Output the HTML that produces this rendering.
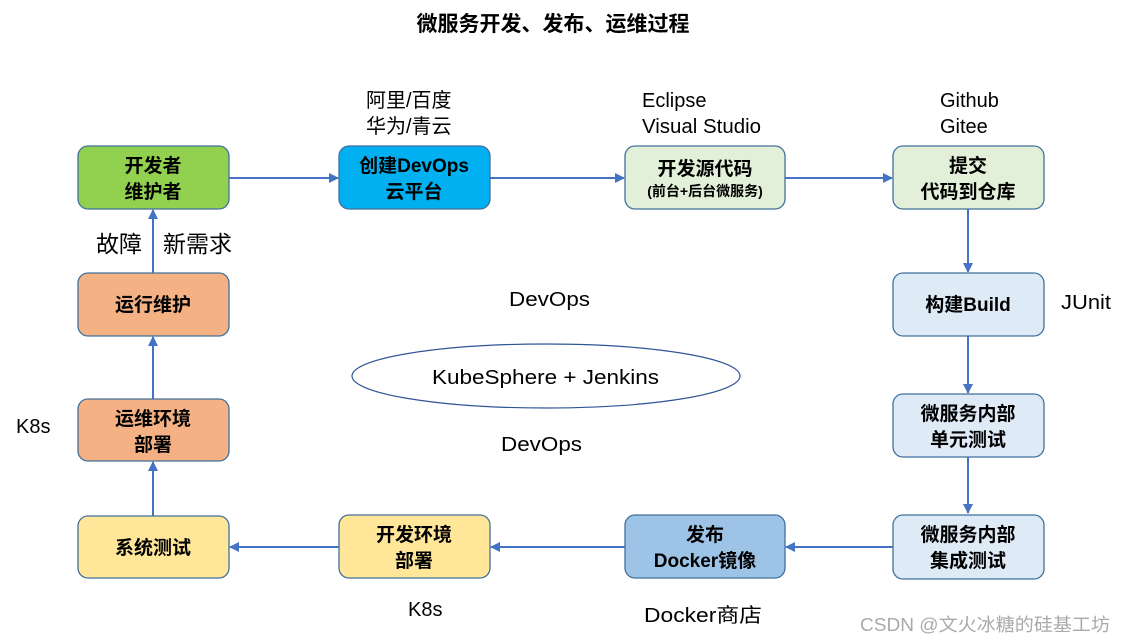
<!DOCTYPE html>
<html><head><meta charset="utf-8"><style>
html,body{margin:0;padding:0;background:#fff;}
svg{display:block;}
text{font-family:"Liberation Sans","Noto Sans CJK SC",sans-serif;}
.b{font-weight:bold;font-size:19px;fill:#000;text-anchor:middle;}
.n{font-size:20px;fill:#000;}
</style></head><body>
<svg width="1126" height="643" viewBox="0 0 1126 643" xmlns="http://www.w3.org/2000/svg">
<defs>
<marker id="a" markerWidth="10" markerHeight="10" refX="9" refY="5" orient="auto" markerUnits="userSpaceOnUse">
<path d="M0,0 L10,5 L0,10 z" fill="#4472c4"/></marker>
</defs>
<text x="553" y="31" class="b" style="font-size:21px">微服务开发、发布、运维过程</text>

<g stroke="#4472c4" stroke-width="2" fill="none" marker-end="url(#a)">
<line x1="229" y1="178" x2="338" y2="178"/>
<line x1="490" y1="178" x2="624" y2="178"/>
<line x1="785" y1="178" x2="892" y2="178"/>
<line x1="968" y1="209" x2="968" y2="272"/>
<line x1="968" y1="336" x2="968" y2="393"/>
<line x1="968" y1="457" x2="968" y2="513"/>
<line x1="893" y1="547" x2="786" y2="547"/>
<line x1="625" y1="547" x2="491" y2="547"/>
<line x1="339" y1="547" x2="230" y2="547"/>
<line x1="153" y1="516" x2="153" y2="462"/>
<line x1="153" y1="399" x2="153" y2="337"/>
<line x1="153" y1="273" x2="153" y2="210"/>
</g>

<g stroke="#41719c" stroke-width="1.3">
<rect x="78" y="146" width="151" height="63" rx="10" fill="#92d050"/>
<rect x="339" y="146" width="151" height="63" rx="10" fill="#00b0f0"/>
<rect x="625" y="146" width="160" height="63" rx="10" fill="#e2f0d9"/>
<rect x="893" y="146" width="151" height="63" rx="10" fill="#e2f0d9"/>
<rect x="893" y="273" width="151" height="63" rx="10" fill="#deebf7"/>
<rect x="893" y="394" width="151" height="63" rx="10" fill="#deebf7"/>
<rect x="893" y="515" width="151" height="64" rx="10" fill="#deebf7"/>
<rect x="625" y="515" width="160" height="63" rx="10" fill="#9dc3e6"/>
<rect x="339" y="515" width="151" height="63" rx="10" fill="#ffe699"/>
<rect x="78" y="516" width="151" height="62" rx="10" fill="#ffe699"/>
<rect x="78" y="399" width="151" height="62" rx="10" fill="#f4b183"/>
<rect x="78" y="273" width="151" height="63" rx="10" fill="#f4b183"/>
</g>
<ellipse cx="546" cy="376" rx="194" ry="32" fill="none" stroke="#2f5597" stroke-width="1.2"/>

<text class="b" x="153" y="172">开发者</text><text class="b" x="153" y="198">维护者</text>
<text class="b" x="414" y="172">创建DevOps</text><text class="b" x="414" y="198">云平台</text>
<text class="b" x="705" y="175">开发源代码</text><text class="b" x="705" y="196" style="font-size:14px">(前台+后台微服务)</text>
<text class="b" x="968" y="172">提交</text><text class="b" x="968" y="198">代码到仓库</text>
<text class="b" x="968" y="311">构建Build</text>
<text class="b" x="968" y="420">微服务内部</text><text class="b" x="968" y="446">单元测试</text>
<text class="b" x="968" y="541">微服务内部</text><text class="b" x="968" y="567">集成测试</text>
<text class="b" x="705" y="541">发布</text><text class="b" x="705" y="567">Docker镜像</text>
<text class="b" x="414" y="541">开发环境</text><text class="b" x="414" y="567">部署</text>
<text class="b" x="153" y="554">系统测试</text>
<text class="b" x="153" y="425">运维环境</text><text class="b" x="153" y="451">部署</text>
<text class="b" x="153" y="311">运行维护</text>

<text class="n" x="366" y="107">阿里/百度</text>
<text class="n" x="366" y="133">华为/青云</text>
<text class="n" x="642" y="107">Eclipse</text>
<text class="n" x="642" y="133" textLength="119" lengthAdjust="spacingAndGlyphs">Visual Studio</text>
<text class="n" x="940" y="107">Github</text>
<text class="n" x="940" y="133">Gitee</text>
<text class="n" x="1061" y="309" textLength="50" lengthAdjust="spacingAndGlyphs">JUnit</text>
<text class="n" x="96" y="252" style="font-size:23px">故障</text>
<text class="n" x="163" y="252" style="font-size:23px">新需求</text>
<text class="n" x="16" y="433">K8s</text>
<text class="n" x="408" y="616">K8s</text>
<text class="n" x="644" y="622" textLength="118" lengthAdjust="spacingAndGlyphs">Docker商店</text>
<text class="n" x="509" y="306" textLength="81" lengthAdjust="spacingAndGlyphs">DevOps</text>
<text class="n" x="501" y="451" textLength="81" lengthAdjust="spacingAndGlyphs">DevOps</text>
<text class="n" x="432" y="384" textLength="227" lengthAdjust="spacingAndGlyphs">KubeSphere + Jenkins</text>
<text x="860" y="631" style="font-size:18px;fill:#aaa" textLength="250" lengthAdjust="spacingAndGlyphs">CSDN @文火冰糖的硅基工坊</text>
</svg>
</body></html>
